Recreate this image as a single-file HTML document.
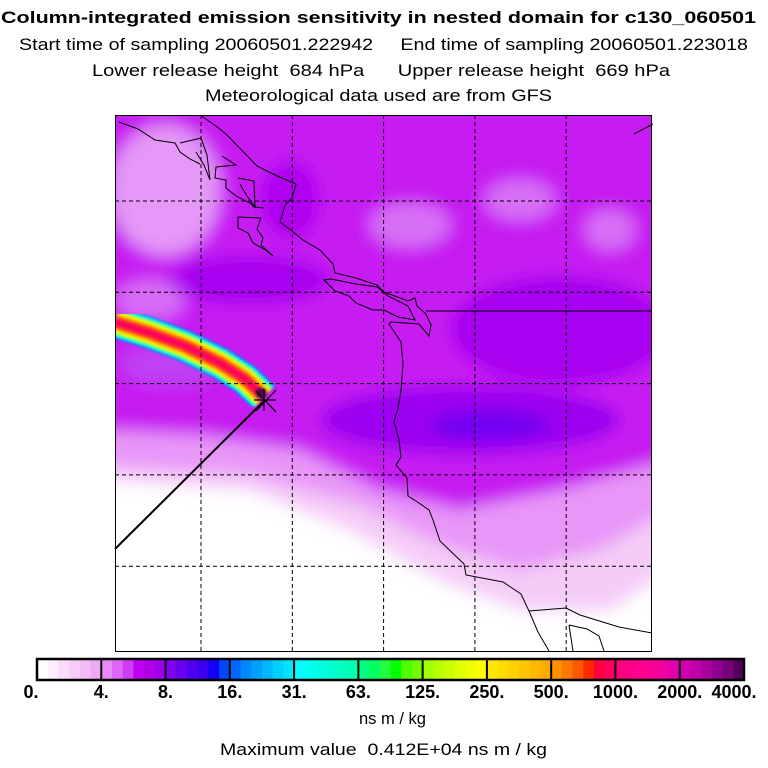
<!DOCTYPE html>
<html><head><meta charset="utf-8"><style>
html,body{margin:0;padding:0;background:#fff;}
body{width:768px;height:768px;position:relative;overflow:hidden;font-family:"Liberation Sans",Arial,sans-serif;}
</style></head><body>
<svg id="svg" width="768" height="768" style="position:absolute;left:0;top:0">
<defs>
<clipPath id="mc"><rect x="115" y="115" width="537" height="537"/></clipPath>
<filter id="bl" x="-20%" y="-20%" width="140%" height="140%"><feGaussianBlur stdDeviation="8"/></filter>
<filter id="bl2"><feGaussianBlur stdDeviation="1.2"/></filter>
</defs>
<g font-family="Liberation Sans, sans-serif" font-size="17">
<text x="1" y="23" font-weight="bold" textLength="755" lengthAdjust="spacingAndGlyphs">Column-integrated emission sensitivity in nested domain for c130_060501</text>
<text x="19" y="50" textLength="729" lengthAdjust="spacingAndGlyphs" xml:space="preserve">Start time of sampling 20060501.222942     End time of sampling 20060501.223018</text>
<text x="92" y="76" textLength="578" lengthAdjust="spacingAndGlyphs" xml:space="preserve">Lower release height  684 hPa      Upper release height  669 hPa</text>
<text x="205" y="101" textLength="347" lengthAdjust="spacingAndGlyphs">Meteorological data used are from GFS</text>
</g>
<g clip-path="url(#mc)">
<rect x="115" y="115" width="537" height="537" fill="#fff"/>
<g filter="url(#bl)">
<path d="M100,100 L670,100 L670,570 L610,610 L520,610 L440,580 L350,530 L250,490 L100,480 Z" fill="#f4ccf7"/>
<path d="M100,100 L670,100 L670,510 L600,550 L520,570 L440,545 L360,505 L250,475 L100,465 Z" fill="#e896f8"/>
<path d="M100,100 L670,100 L670,460 L560,490 L460,510 L380,490 L300,450 L200,435 L100,430 Z" fill="#c61cf2"/>
<ellipse cx="165" cy="190" rx="55" ry="65" fill="#e498f7"/>
<ellipse cx="150" cy="300" rx="35" ry="20" fill="#d86cf6"/>
<ellipse cx="410" cy="225" rx="40" ry="22" fill="#d870f6"/>
<ellipse cx="520" cy="200" rx="35" ry="20" fill="#d870f6"/>
<ellipse cx="610" cy="230" rx="25" ry="20" fill="#d870f6"/>
<ellipse cx="560" cy="330" rx="110" ry="55" fill="#a800f0"/>
<ellipse cx="470" cy="420" rx="150" ry="35" fill="#9c00f0"/>
<ellipse cx="250" cy="280" rx="80" ry="25" fill="#a800f0"/>
<ellipse cx="290" cy="200" rx="30" ry="40" fill="#b000f0"/>
<ellipse cx="490" cy="425" rx="60" ry="14" fill="#7000f2"/>
<ellipse cx="170" cy="365" rx="50" ry="20" fill="#c040f4"/>
</g>
<g id="plume" filter="url(#bl2)"></g>
</g>
<g id="grid"></g>
<g fill="none" stroke="#000" stroke-width="1">
<polyline points="200,115 216,126 226,134 257,166 275,175 296,184 292,198 285,205 280,222 292,231 303,240 320,250 333,264 335,273 356,278 377,285 384,292 408,301 415,298 417,306 426,314 431,325 429,336 419,324 391,322 389,324 401,342 403,363 401,391 398,408 394,422 399,440 401,457 396,465 407,478 408,496 419,503 429,510 433,520 440,541 464,564 466,575 503,582 521,594 529,611 538,632 549,651"/>
<polyline points="529,611 566,608 580,615 619,627 652,633"/>
<polyline points="569,625 573,651"/>
<polyline points="569,625 587,629 599,636 604,651"/>
<polygon points="324,280 331,279 356,284 377,287 388,296 408,306 415,320 398,317 384,310 373,310 356,303 349,296 335,291"/>
<polyline points="119,122 138,129 155,140 175,143 180,152 190,159 200,164"/>
<polyline points="180,143 201,138 207,155 210,180 204,165 196,152"/>
<polyline points="222,156 236,165 216,167 215,178 226,180 226,188 236,196 250,203 254,207 264,208"/>
<polyline points="238,178 254,181 255,207 247,196 240,184"/>
<polygon points="238,217 261,218 257,229 263,238 261,245 273,256 264,249 253,243 248,233 238,228"/>
<polyline points="634,134 653,124"/>
</g>
<line x1="264" y1="401" x2="115" y2="549" stroke="#000" stroke-width="2"/>
<g stroke="#000" stroke-width="1.2">
<line x1="254" y1="400" x2="276" y2="400"/><line x1="264" y1="389" x2="264" y2="411"/><line x1="256" y1="391" x2="276" y2="412"/><line x1="256" y1="411" x2="276" y2="390"/>
</g>
<rect x="115.5" y="115.5" width="536" height="536" fill="none" stroke="#000" stroke-width="1"/>
<g id="cbar"></g>
<text x="359" y="724" textLength="67" lengthAdjust="spacingAndGlyphs" font-size="17" font-family="Liberation Sans, sans-serif">ns m / kg</text>
<text x="220" y="755" textLength="327" lengthAdjust="spacingAndGlyphs" font-size="17" font-family="Liberation Sans, sans-serif" xml:space="preserve">Maximum value  0.412E+04 ns m / kg</text>
</svg>
<script>
const tickLabels=["0.","4.","8.","16.","31.","63.","125.","250.","500.","1000.","2000.","4000."];
const segColors=[
["#ffffff","#fdeefd","#fbdafb","#f8cbf8","#f2bcf5","#eeaaf5"],
["#e88af8","#dd66f8","#cf3cf5","#c000f0","#b000e8","#a000f0"],
["#8000f0","#6a00f0","#5000f0","#3c00f0","#1400f8","#0048f8"],
["#0068ff","#0088ff","#00a0ff","#00b8ff","#00d0ff","#00e4ff"],
["#00ffff","#00fff0","#00ffe0","#00ffd0","#00ffc0","#00ffb0"],
["#00ff80","#00ff60","#20ff40","#00ff00","#50ff00","#70ff00"],
["#a0ff00","#b8ff00","#ccff00","#e0ff00","#eeff00","#ffff00"],
["#ffe800","#ffdc00","#ffd000","#ffc400","#ffb800","#ffac00"],
["#ff9000","#ff7800","#ff5800","#ff2800","#ff0040","#ff0060"],
["#ff0080","#ff0088","#ff0090","#f80098","#f000a0","#e000b0"],
["#d000b0","#c000a8","#a8009c","#900090","#780078","#500058"]];
const gridLon=[0,1,2,3,4];
const gridLat=[0,1,2,3,4];
const plumeX=[115,150,185,220,245,264];
const plumeY=[322,333,346,363,379,397];
const NS="http://www.w3.org/2000/svg";
const cb=document.getElementById('cbar');
const cx0=37,cx1=744,cy=659,ch=21;
const segW=(cx1-cx0)/segColors.length;
function xTick(i){return cx0+i*segW;}
segColors.forEach((cols,i)=>{cols.forEach((c,j)=>{
 const r=document.createElementNS(NS,'rect');
 r.setAttribute('x',xTick(i)+j*segW/cols.length);r.setAttribute('y',cy);
 r.setAttribute('width',segW/cols.length+0.6);r.setAttribute('height',ch);r.setAttribute('fill',c);
 
 
 cb.appendChild(r);});});
const fr=document.createElementNS(NS,'rect');
fr.setAttribute('x',cx0);fr.setAttribute('y',cy);fr.setAttribute('width',cx1-cx0);fr.setAttribute('height',ch);
fr.setAttribute('fill','none');fr.setAttribute('stroke','#000');fr.setAttribute('stroke-width','2.5');


cb.appendChild(fr);
tickLabels.forEach((t,i)=>{
 const x=xTick(i);
 if(i>0&&i<tickLabels.length-1){const l=document.createElementNS(NS,'line');
 l.setAttribute('x1',x);l.setAttribute('x2',x);l.setAttribute('y1',cy);l.setAttribute('y2',cy+ch);
 l.setAttribute('stroke','#000');l.setAttribute('stroke-width','2');
 
 
 cb.appendChild(l);}
 const tx=document.createElementNS(NS,'text');
 tx.setAttribute('x',i==tickLabels.length-1?x-10:(i==0?x-6:x));tx.setAttribute('y',698);
 tx.setAttribute('text-anchor','middle');tx.setAttribute('font-size','18');tx.setAttribute('font-weight','bold');
 tx.setAttribute('font-family','Liberation Sans, sans-serif');tx.textContent=t;
 
 
 cb.appendChild(tx);});
const g=document.getElementById('grid');
const mx0=115,my0=115,msz=537,step=91.3,g0=201;
function gx(v){return g0+v*step;}
function gy(v){return g0+v*step;}
gridLon.forEach(v=>{const l=document.createElementNS(NS,'line');
 l.setAttribute('x1',gx(v));l.setAttribute('x2',gx(v));l.setAttribute('y1',my0);l.setAttribute('y2',my0+msz);
 l.setAttribute('stroke','#000');l.setAttribute('stroke-dasharray','4,3');
 
 
 g.appendChild(l);});
gridLat.forEach(v=>{const l=document.createElementNS(NS,'line');
 l.setAttribute('y1',gy(v));l.setAttribute('y2',gy(v));l.setAttribute('x1',mx0);l.setAttribute('x2',mx0+msz);
 l.setAttribute('stroke','#000');l.setAttribute('stroke-dasharray','4,3');
 
 
 g.appendChild(l);});
const bl=document.createElementNS(NS,'line');
bl.setAttribute('x1',426);bl.setAttribute('x2',652);bl.setAttribute('y1',311);bl.setAttribute('y2',311);bl.setAttribute('stroke','#000');


g.appendChild(bl);
const pl=document.getElementById('plume');
const pts=plumeX.map((x,i)=>x+','+plumeY[i]).join(' ');
[["#0080ff",32],["#00ffe0",28],["#60ff00",24],["#ffff00",20],["#ff9000",16],["#ff2020",11],["#ff0060",5]].forEach(([c,w])=>{
 const p=document.createElementNS(NS,'polyline');
 p.setAttribute('points',pts);p.setAttribute('fill','none');p.setAttribute('stroke',c);p.setAttribute('stroke-width',w);
 p.setAttribute('stroke-linejoin','round');
 
 
 pl.appendChild(p);});
const core=document.createElementNS(NS,'circle');
core.setAttribute('cx',plumeX[plumeX.length-1]-3);core.setAttribute('cy',plumeY[plumeY.length-1]-4);core.setAttribute('r',6);core.setAttribute('fill','#600050');


pl.appendChild(core);
</script>
</body></html>
